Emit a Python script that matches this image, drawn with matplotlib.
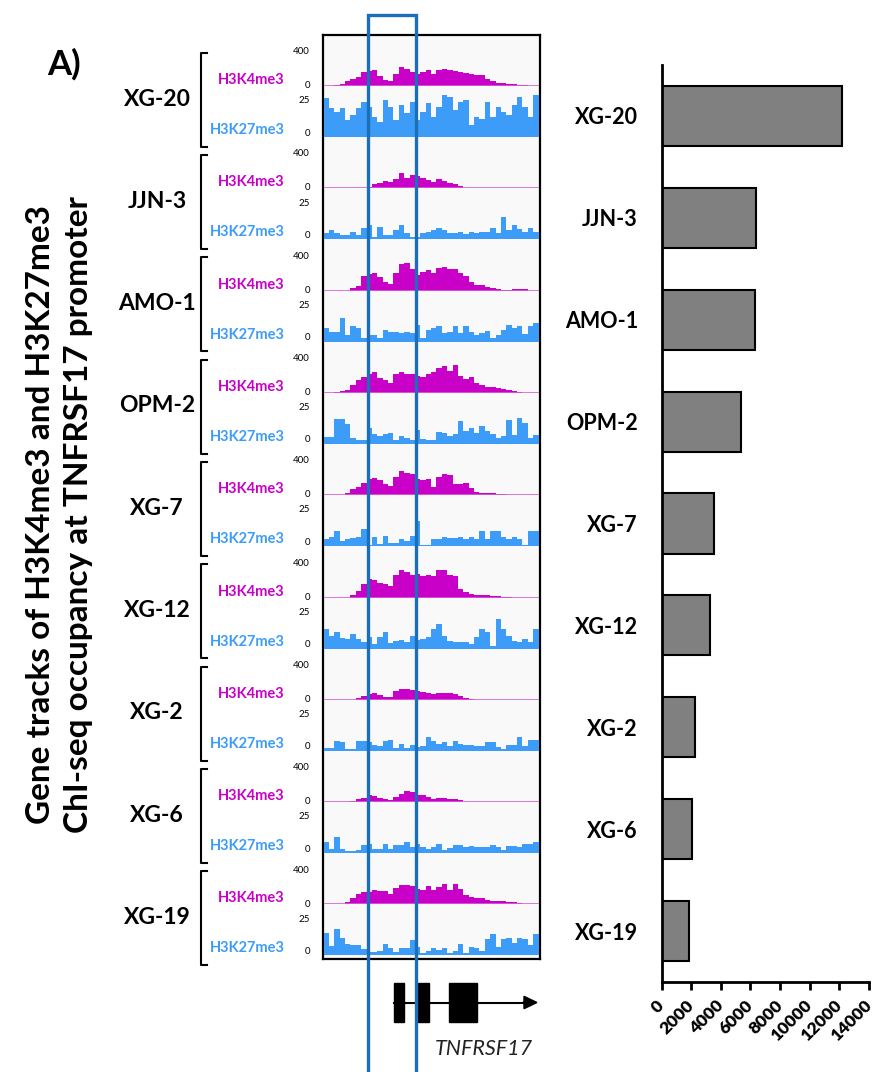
import numpy as np
import matplotlib
matplotlib.use("Agg")
import matplotlib.pyplot as plt
from matplotlib.patches import Rectangle, FancyArrow
from matplotlib.lines import Line2D

# ---------------- data ----------------
cell_lines = ["XG-20", "JJN-3", "AMO-1", "OPM-2", "XG-7", "XG-12", "XG-2", "XG-6", "XG-19"]
bar_values = [12200, 6350, 6300, 5350, 3550, 3250, 2250, 2050, 1850]
bar_ticks = [0, 2000, 4000, 6000, 8000, 10000, 12000, 14000]

k4_xg20 = [0,0,10,20,55,75,95,150,165,180,115,65,50,135,210,190,150,135,150,180,135,180,185,180,165,160,145,135,120,120,75,50,30,35,25,20,10,10,5,0]
k27_xg20 = [23,17,15,17,10,13,17,21,18,12,9,22,18,10,19,14,21,10,15,20,12,18,25,24,16,21,22,7,12,11,21,12,18,15,13,19,24,18,12,25]
k4_jjn3 = [0,0,0,0,0,0,0,0,20,45,55,85,65,105,165,120,145,140,115,90,65,105,85,55,45,25,8,0,0,0,0,0,0,0,0,0,0,0,0,0]
k27_jjn3 = [3.6,5.6,4,2.6,2.6,4.6,2.6,6.6,8.6,1.6,7.6,2.6,2.6,5.6,8.6,3.6,1.6,1.2,3.6,4.6,5.6,6.6,5.6,3.6,4,4.6,3.2,4.6,3.6,4.6,4.6,6.6,3.6,13,5.6,8.6,6,4.6,6.6,4.6]
k4_amo1 = [0,0,0,0,0,25,50,165,180,190,150,95,75,190,290,305,240,170,210,230,190,255,260,245,240,190,165,95,65,57,42,27,19,11,4,19,19,15,0,0]
k27_amo1 = [8,5.6,5.6,14,4,9,8,2,4,4,2,7,5.6,6,5,6,5,10,2,7,8,9,5,5.6,9,5,9,5.6,4,5,6.4,2,4,7,10,8,9,4.4,9,11]
k4_opm2 = [0,0,15,23,34,90,140,180,215,235,160,140,115,215,228,215,215,190,180,215,235,275,295,245,305,190,150,180,115,90,65,65,53,45,27,23,8,0,0,0]
k27_opm2 = [4,4,14.6,15,11.6,3.6,2.6,2.6,9.6,5.6,4.6,5.6,6.6,2.6,4.6,3.6,2.6,8,3.2,2.6,2.6,7.2,6.6,4.6,5.6,13.6,7.6,9.2,6.6,10.6,7.6,5.6,3.6,4.6,14,5.2,15.6,12.6,3.6,5.2]
k4_xg7 = [0,0,0,0,19,68,87,133,180,195,165,125,105,200,270,245,230,180,165,180,87,200,230,220,125,125,133,80,30,27,23,19,15,11,0,0,0,0,0,0]
k27_xg7 = [4,5.6,9,3,4,5,5.6,10,1,5.6,1.6,6,2,2,4.4,3,6,15,1,1,4.4,4,5.6,5,5,5.6,4.4,5.6,4.4,9,4,9,9,5.6,4.4,5.6,4,1,9,9]
k4_xg12 = [0,0,0,0,0,30,76,150,210,190,160,145,133,245,305,285,245,260,235,245,235,305,305,245,235,95,57,38,30,27,23,15,15,11,11,0,0,0,0,0]
k27_xg12 = [11.6,7.6,9.6,6,5.6,8.6,5.6,4,6.6,2.6,6.6,9.6,3.2,4.6,5.2,3.6,7.2,5.2,5.6,6.6,11.6,14.6,7.6,4.6,3.6,4,3.6,2.6,6.6,11.6,9.6,1.6,17.6,11.6,7.6,4.6,3.6,5.6,3.6,11.6]
k4_xg2 = [0,0,0,0,0,0,19,42,68,80,49,30,34,95,118,118,106,95,87,80,68,80,80,76,68,42,19,11,0,0,0,0,0,0,0,0,0,0,0,0]
k27_xg2 = [1.4,1.6,5.6,5,1,1,5.6,5.6,5,3.6,3,5.6,6.4,1.6,4,1.6,3.6,2,3,8,5.6,4,5,3,5.6,4,3.6,3.6,3,3,5,5,2,1,3.6,3.6,8,3,6.4,6.4]
k4_xg6 = [0,0,0,0,0,11,30,46,84,68,46,38,19,57,95,122,114,84,76,57,38,46,46,30,30,19,0,0,0,0,0,0,0,0,0,0,0,0,0,0]
k27_xg6 = [6.6,2.6,9.6,2.6,1.2,1.2,2,4.6,5.6,2.6,2.6,5.6,2.6,4.6,4.6,6.6,3.6,5.2,3.6,2.6,3.6,5.2,1.6,3.2,4.6,4.6,3.6,4,3.6,3.6,3.6,4.6,3.6,1.6,4,4,3.6,5.2,5.2,6.6]
k4_xg19 = [0,0,0,0,30,76,114,133,137,163,145,145,114,183,213,213,202,175,163,202,163,190,228,163,228,175,99,87,76,68,49,42,42,38,30,23,11,0,0,0]
k27_xg19 = [13.6,5.6,15.6,10.6,7,6.2,6.2,3.6,2.2,2.2,2.6,7,4.2,2.2,4.6,4.2,9,5,1.6,2.6,4.2,3,4.6,1.6,2.6,7,1.6,5,4.6,2.6,9.6,13,5,9.6,10.2,7.6,10.6,9.6,6.2,13]

k4_tracks = [k4_xg20, k4_jjn3, k4_amo1, k4_opm2, k4_xg7, k4_xg12, k4_xg2, k4_xg6, k4_xg19]
k27_tracks = [k27_xg20, k27_jjn3, k27_amo1, k27_opm2, k27_xg7, k27_xg12, k27_xg2, k27_xg6, k27_xg19]
k4_max, k27_max = 400, 25

# gene model (in track bin units)
exon_starts = [13.2, 17.5, 23.4]
exon_ends = [14.9, 19.7, 28.6]
gene_end = 39.7
# highlighted promoter window (in track bin units)
window = [8.2, 17.2]

# ---------------- style ----------------
W, H = 876, 1072
MAG = "#c800c8"
BLUE = "#3d9cf8"
BOX = "#1a6fb8"
FONT = ["Lato", "DejaVu Sans"]
plt.rcParams["font.family"] = FONT

def fx(x): return x / W
def fy(y): return 1 - y / H
def rect(x0, y0, x1, y1): return [fx(x0), fy(y1), (x1 - x0) / W, (y1 - y0) / H]

fig = plt.figure(figsize=(W / 100, H / 100), dpi=100)
fig.patch.set_facecolor("white")

# panel background
panel = fig.add_axes(rect(322.5, 34.5, 539.5, 959))
panel.set_facecolor("#f9f9f9")
panel.set_xticks([]); panel.set_yticks([])
for s in panel.spines.values():
    s.set_linewidth(1.6); s.set_color("black")

nb = len(k4_xg20)
xb = np.arange(nb)
period = 102.3
for i, name in enumerate(cell_lines):
    off = period * i
    a4 = fig.add_axes(rect(323.5, 50 + off, 538.5, 86 + off))
    a4.bar(xb, k4_tracks[i], width=1.0, align="edge", color=MAG, linewidth=0)
    a4.axhline(0, color="#d860d8", lw=1.2)
    a4.set_xlim(0, nb); a4.set_ylim(0, k4_max)
    a4.axis("off")
    a27 = fig.add_axes(rect(323.5, 95 + off, 538.5, 137 + off))
    a27.bar(xb, k27_tracks[i], width=1.0, align="edge", color=BLUE, linewidth=0)
    a27.set_xlim(0, nb); a27.set_ylim(0, k27_max)
    a27.axis("off")

    # labels
    fig.text(fx(157), fy(99 + off), name, ha="center", va="center",
             fontsize=16.5, fontweight="bold", color="black")
    fig.text(fx(285), fy(80 + off), "H3K4me3", ha="right", va="center",
             fontsize=10.5, fontweight="bold", color=MAG)
    fig.text(fx(285), fy(130 + off), "H3K27me3", ha="right", va="center",
             fontsize=10.5, fontweight="bold", color=BLUE)
    for yy, s in [(51.7, str(k4_max)), (85.7, "0"), (100.7, str(k27_max)), (133, "0")]:
        fig.text(fx(310), fy(yy + off), s, ha="right", va="center", fontsize=7, color="black")
    # bracket
    fig.lines.append(Line2D([fx(206.5), fx(200.5), fx(200.5), fx(206.5)],
                            [fy(52.7 + off), fy(52.7 + off), fy(146.7 + off), fy(146.7 + off)],
                            transform=fig.transFigure, color="black", lw=1.5))

# gene model axes sharing bin scale
ag = fig.add_axes(rect(323.5, 975, 538.5, 1030))
ag.set_xlim(0, nb); ag.set_ylim(-1, 1)
ag.axis("off")
ag.plot([exon_starts[0], gene_end - 2.3], [0, 0], color="black", lw=1.5)
ag.add_patch(FancyArrow(gene_end - 2.6, 0, 2.6, 0, width=0.0, head_width=0.45, head_length=2.4,
                        length_includes_head=True, color="black"))
for s0, s1 in zip(exon_starts, exon_ends):
    ag.add_patch(Rectangle((s0, -0.72), s1 - s0, 1.44, color="black"))
fig.text(fx(484), fy(1049), "TNFRSF17", ha="center", va="center", fontsize=15.5,
         fontstyle="italic", color="#222222")

# promoter window box
x0 = 323.5 + window[0] / nb * 215
x1 = 323.5 + window[1] / nb * 215
fig.patches.append(Rectangle((fx(x0), fy(1080)), (x1 - x0) / W, (1080 - 14.5) / H,
                             transform=fig.transFigure, fill=False, edgecolor=BOX, lw=2.4, zorder=10))

# bar chart
ab = fig.add_axes(rect(661.5, 65, 869, 982))
ypos = np.arange(len(cell_lines))
ab.barh(ypos, bar_values, height=0.59, color="#808080", edgecolor="black", linewidth=1.5)
ab.set_ylim(len(cell_lines) - 0.5, -0.5)
ab.set_xlim(0, 14000)
ab.set_yticks(ypos)
ab.set_yticklabels(cell_lines, fontsize=15.5, fontweight="bold")
ab.tick_params(axis="y", length=0, pad=17)
ab.set_xticks(bar_ticks)
ab.set_xticklabels([str(v) for v in bar_ticks], rotation=45, ha="right", va="center",
                   rotation_mode="anchor", fontsize=12.5, fontweight="heavy")
ab.tick_params(axis="x", direction="out", length=6, width=2, pad=9)
for s in ["top", "right"]:
    ab.spines[s].set_visible(False)
for s in ["left", "bottom"]:
    ab.spines[s].set_linewidth(2)
ab.set_facecolor("none")

# panel label and y title
fig.text(fx(64), fy(64), "A)", ha="center", va="center", fontsize=25, fontweight="bold")
fig.text(fx(41), fy(515), "Gene tracks of H3K4me3 and H3K27me3", rotation=90,
         ha="center", va="center", fontsize=24, fontweight="bold")
fig.text(fx(79), fy(515), "ChI-seq occupancy at TNFRSF17 promoter", rotation=90,
         ha="center", va="center", fontsize=24, fontweight="bold")

fig.savefig("out.png", dpi=100)
